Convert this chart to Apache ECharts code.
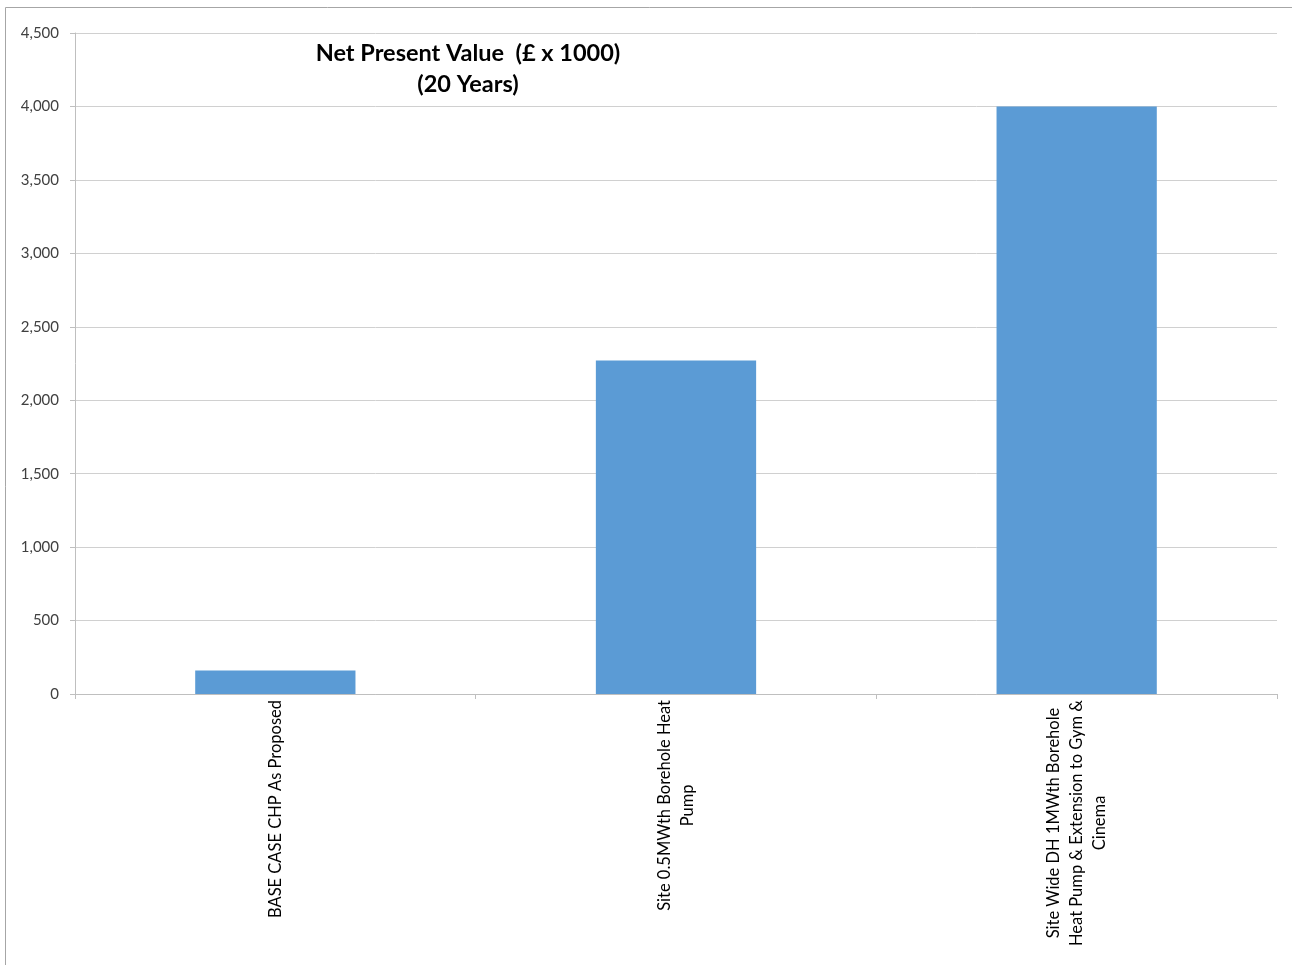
<!DOCTYPE html>
<html>
<head>
<meta charset="utf-8">
<script src="https://cdn.jsdelivr.net/npm/echarts@6/dist/echarts.min.js"></script>
<style>
  html, body { margin: 0; padding: 0; background: #fff; }
  #chart { width: 1292px; height: 965px; }
</style>
</head>
<body>
<div id="chart"></div>
<script>
// Scenario names (each inner array is one label, split into its lines)
const categories = [
  ['BASE CASE CHP As Proposed'],
  ['Site 0.5MWth Borehole Heat', 'Pump'],
  ['Site Wide DH 1MWth Borehole', 'Heat Pump & Extension to Gym &', 'Cinema']
];
// Net present value over 20 years, in £ thousands
const npvValues = [160, 2270, 4000];
// Value axis range
const yMin = 0;
const yMax = 4500;
const yStep = 500;

const titleLines = ['Net Present Value  (£ x 1000)', '(20 Years)'];
const FONT = 'Lato, "Open Sans", sans-serif';

const chart = echarts.init(document.getElementById('chart'), null, { renderer: 'canvas' });

chart.setOption({
  animation: false,
  backgroundColor: '#ffffff',
  textStyle: { fontFamily: FONT },
  graphic: [{
    type: 'rect',
    silent: true,
    shape: { x: 5.5, y: 7.5, width: 1400, height: 1100 },
    style: { fill: 'none', stroke: '#a6a6a6', lineWidth: 1 }
  }],
  title: {
    text: titleLines.join('\n'),
    left: 463,
    top: 33,
    textAlign: 'center',
    textStyle: {
      fontFamily: FONT,
      fontSize: 23.5,
      fontWeight: 'bold',
      color: '#000000',
      lineHeight: 31
    }
  },
  grid: { left: 75, right: 15, top: 33, bottom: 271, containLabel: false },
  xAxis: {
    type: 'category',
    data: categories.map(c => c.join('\n')),
    axisLine: { lineStyle: { color: '#bfbfbf', width: 1 } },
    axisTick: { show: true, alignWithLabel: false, length: 5, lineStyle: { color: '#bfbfbf' } },
    axisLabel: {
      rotate: 90,
      interval: 0,
      margin: 6,
      color: '#000000',
      fontFamily: FONT,
      fontSize: 16.5,
      lineHeight: 23,
      formatter: function (v) {
        return v.split('\n').map(s => '{c|' + s + '}').join('\n');
      },
      rich: {
        c: { align: 'center', fontFamily: FONT, fontSize: 16.5, lineHeight: 23, color: '#000000' }
      }
    },
    splitLine: { show: false }
  },
  yAxis: {
    type: 'value',
    min: yMin,
    max: yMax,
    interval: yStep,
    axisLine: { show: true, lineStyle: { color: '#bfbfbf', width: 1 } },
    axisTick: { show: true, length: 5, lineStyle: { color: '#bfbfbf' } },
    axisLabel: {
      margin: 16,
      color: '#404040',
      fontFamily: FONT,
      fontSize: 15,
      formatter: function (v) { return v.toLocaleString('en-US'); }
    },
    splitLine: { show: true, lineStyle: { color: '#d0d0d0', width: 1 } }
  },
  series: [{
    type: 'bar',
    data: npvValues,
    barWidth: '40%',
    itemStyle: { color: '#5b9bd5' }
  }]
});
</script>
</body>
</html>
